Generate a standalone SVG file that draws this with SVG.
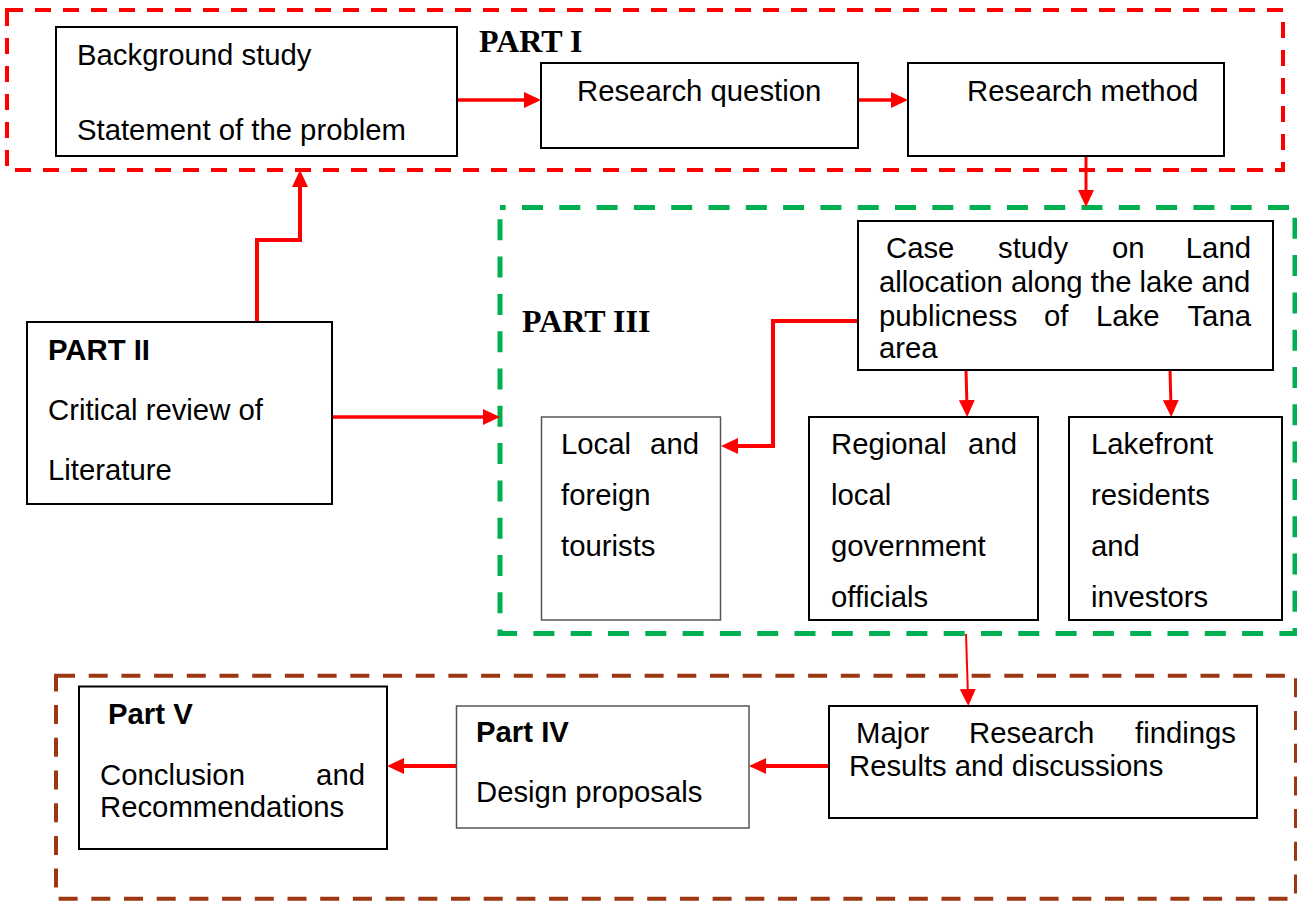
<svg xmlns="http://www.w3.org/2000/svg" width="1297" height="901" viewBox="0 0 1297 901">
<style>
.bg{fill:#fff}
.node{fill:#fff;stroke:#000;stroke-width:2}
.t{font-family:"Liberation Sans",Arial,sans-serif;font-size:29.3px;fill:#000}
.b{font-weight:bold}
.ser{font-family:"Liberation Serif","Times New Roman",serif;font-size:32px;font-weight:bold;fill:#000}
.conn{fill:none;stroke:#f00;stroke-width:3.5;marker-end:url(#ah)}
.part1{fill:none;stroke:#f00;stroke-width:4;stroke-dasharray:16 12}
.part3{fill:none;stroke:#00B050;stroke-width:5;stroke-dasharray:21 16.3}
.part45{fill:none;stroke:#9C3712;stroke-width:4;stroke-dasharray:19 13.7}
</style>
<defs>
<marker id="ah" markerUnits="userSpaceOnUse" markerWidth="17" markerHeight="16" refX="7" refY="8" orient="auto" viewBox="0 0 17 16"><path d="M0,0 L17,8 L0,16 z" fill="#f00"/></marker>
</defs>
<rect class="bg" x="0" y="0" width="1297" height="901"/>

<g id="groups">
<rect id="part1-frame" class="part1" x="7" y="10" width="1276" height="160"/>
<rect id="part3-frame" class="part3" x="500" y="207.5" width="795" height="426" stroke-dashoffset="-22"/>
<rect id="part45-frame" class="part45" x="56" y="675.7" width="1240" height="223"/>
<text class="ser" x="479" y="52">PART I</text>
<text class="ser" x="522" y="332">PART III</text>
</g>

<g id="connectors">
<line class="conn" x1="457" y1="100" x2="531" y2="100"/>
<line class="conn" x1="858" y1="100" x2="898" y2="100"/>
<line class="conn" x1="1086" y1="156" x2="1086" y2="197" style="stroke-width:3"/>
<polyline class="conn" points="257,322 257,240 300,240 300,180" style="stroke-width:4"/>
<line class="conn" x1="332" y1="417" x2="490" y2="417"/>
<polyline class="conn" points="858,321 773,321 773,446 731,446" style="stroke-width:4"/>
<line class="conn" x1="966" y1="370" x2="967" y2="407" style="stroke-width:3"/>
<line class="conn" x1="1170" y1="370" x2="1171" y2="407" style="stroke-width:3"/>
<line class="conn" x1="966" y1="634" x2="968" y2="696" style="stroke-width:2"/>
<line class="conn" x1="829" y1="766" x2="759" y2="766" style="stroke-width:4"/>
<line class="conn" x1="456" y1="766" x2="397" y2="766" style="stroke-width:4"/>
</g>

<g id="background">
<rect class="node" x="56" y="27" width="401" height="129"/>
<text class="t" x="77" y="65">Background study</text>
<text class="t" x="77" y="140">Statement of the problem</text>
</g>

<g id="research-question">
<rect class="node" x="541" y="63" width="317" height="85"/>
<text class="t" x="577" y="101">Research question</text>
</g>

<g id="research-method">
<rect class="node" x="908" y="63" width="316" height="93"/>
<text class="t" x="967" y="101">Research method</text>
</g>

<g id="part2">
<rect class="node" x="27" y="322" width="305" height="182"/>
<text class="t b" x="48" y="360">PART II</text>
<text class="t" x="48" y="420">Critical review of</text>
<text class="t" x="48" y="480">Literature</text>
</g>

<g id="case-study">
<rect class="node" x="858" y="221" width="415" height="149"/>
<text class="t" y="258"><tspan x="886">Case</tspan><tspan x="998">study</tspan><tspan x="1112">on</tspan><tspan x="1251" text-anchor="end">Land</tspan></text>
<text class="t" x="879" y="292">allocation along the lake and</text>
<text class="t" y="326"><tspan x="879">publicness</tspan><tspan x="1044">of</tspan><tspan x="1096">Lake</tspan><tspan x="1251" text-anchor="end">Tana</tspan></text>
<text class="t" x="879" y="358">area</text>
</g>

<g id="tourists">
<rect class="node" x="541.5" y="417" width="179" height="203" style="stroke:#555;stroke-width:1.5"/>
<text class="t" y="454"><tspan x="561">Local</tspan><tspan x="699" text-anchor="end">and</tspan></text>
<text class="t" x="561" y="505">foreign</text>
<text class="t" x="561" y="556">tourists</text>
</g>

<g id="officials">
<rect class="node" x="809" y="417" width="229" height="203"/>
<text class="t" y="454"><tspan x="831">Regional</tspan><tspan x="1017" text-anchor="end">and</tspan></text>
<text class="t" x="831" y="505">local</text>
<text class="t" x="831" y="556">government</text>
<text class="t" x="831" y="607">officials</text>
</g>

<g id="residents">
<rect class="node" x="1069" y="417" width="213" height="203"/>
<text class="t" x="1091" y="454">Lakefront</text>
<text class="t" x="1091" y="505">residents</text>
<text class="t" x="1091" y="556">and</text>
<text class="t" x="1091" y="607">investors</text>
</g>

<g id="findings">
<rect class="node" x="829" y="706" width="428" height="112"/>
<text class="t" y="743"><tspan x="856">Major</tspan><tspan x="969">Research</tspan><tspan x="1236" text-anchor="end">findings</tspan></text>
<text class="t" x="849" y="776">Results and discussions</text>
</g>

<g id="part4">
<rect class="node" x="456.5" y="706" width="292.5" height="122" style="stroke:#555;stroke-width:1.5"/>
<text class="t b" x="476" y="742">Part IV</text>
<text class="t" x="476" y="802">Design proposals</text>
</g>

<g id="part5">
<rect class="node" x="79" y="686.5" width="308" height="162.5"/>
<text class="t b" x="108" y="724">Part V</text>
<text class="t" y="785"><tspan x="100">Conclusion</tspan><tspan x="365" text-anchor="end">and</tspan></text>
<text class="t" x="100" y="817">Recommendations</text>
</g>
</svg>
